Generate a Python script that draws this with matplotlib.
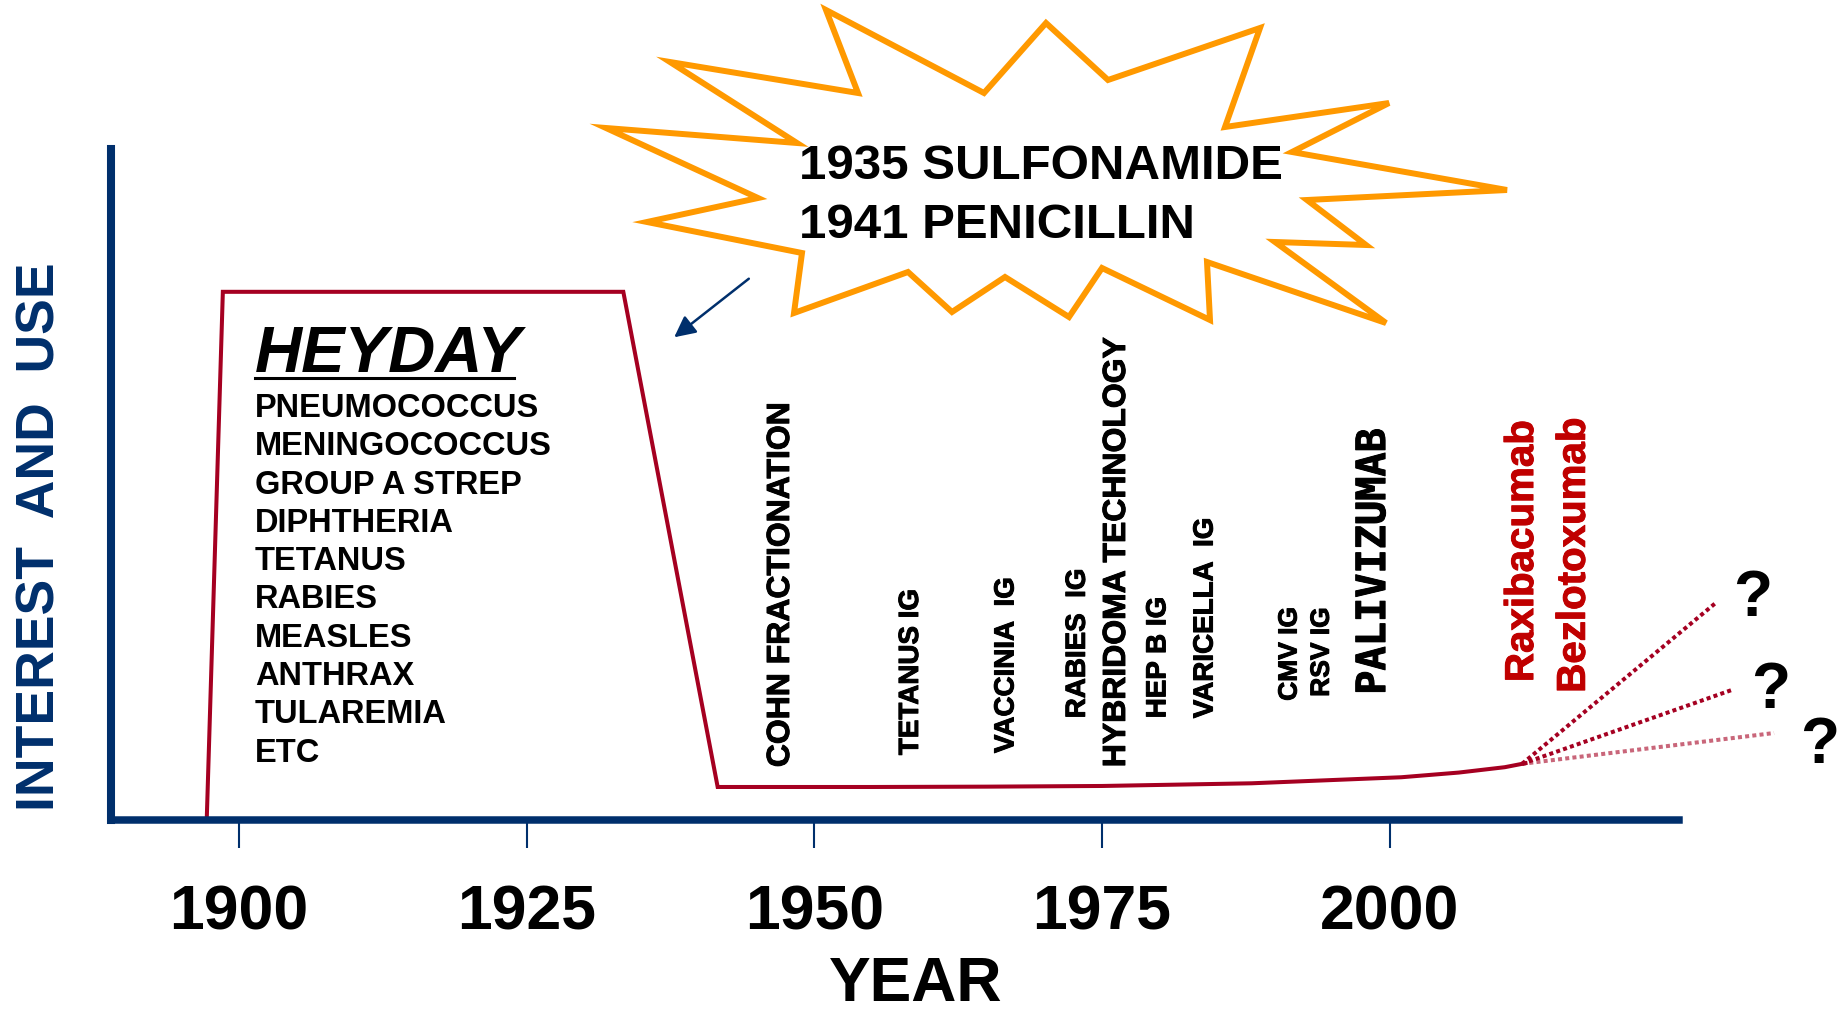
import matplotlib
matplotlib.use('Agg')
import matplotlib.pyplot as plt
import matplotlib.patheffects as pe
from matplotlib.patches import Polygon

# colours
NAVY = '#002F6C'
RED = '#A50021'
TXT_RED = '#C00000'
ORANGE = '#FF9900'

# main curve (year, interest) - schematic values
line_years = [1897.2, 1898.6, 1933.4, 1941.6, 1955, 1965, 1975, 1988, 2001, 2006, 2010, 2011.8]
line_vals = [0, 78.7, 78.7, 4.85, 4.85, 4.9, 5.0, 5.4, 6.3, 7.0, 7.8, 8.4]

# future "?" projections
proj_start = (2011.5, 8.3)
proj_end_years = [2028.4, 2029.7, 2033.4]
proj_end_vals = [32.4, 19.3, 12.9]
proj_alpha = [1.0, 1.0, 0.6]

tick_years = [1900, 1925, 1950, 1975, 2000]
tick_labels = ['1900', '1925', '1950', '1975', '2000']

heyday_items = ['PNEUMOCOCCUS', 'MENINGOCOCCUS', 'GROUP A STREP', 'DIPHTHERIA', 'TETANUS',
                'RABIES', 'MEASLES', 'ANTHRAX', 'TULAREMIA', 'ETC']

# vertical milestone labels: text, year, bottom value, font size, colour, family
milestones = [
    ('COHN FRACTIONATION', 1947.1, 7.8, 23, 'black', 'Liberation Sans'),
    ('TETANUS IG', 1958.4, 9.6, 20, 'black', 'Liberation Sans'),
    ('VACCINIA  IG', 1966.7, 9.9, 20, 'black', 'Liberation Sans'),
    ('RABIES  IG', 1972.9, 15.1, 20, 'black', 'Liberation Sans'),
    ('HYBRIDOMA TECHNOLOGY', 1976.3, 7.8, 23, 'black', 'Liberation Sans'),
    ('HEP B IG', 1979.9, 15.1, 20, 'black', 'Liberation Sans'),
    ('VARICELLA  IG', 1984.0, 15.1, 20, 'black', 'Liberation Sans'),
    ('CMV IG', 1991.3, 17.7, 19, 'black', 'Liberation Sans'),
    ('RSV IG', 1994.1, 18.3, 19, 'black', 'Liberation Sans'),
    ('PALIVIZUMAB', 1998.6, 18.6, 29, 'black', 'DejaVu Sans Mono'),
    ('Raxibacumab', 2011.5, 20.5, 29, TXT_RED, 'Liberation Sans'),
    ('Bezlotoxumab', 2016.0, 18.9, 29, TXT_RED, 'Liberation Sans'),
]

# starburst outline in figure pixels (x right, y down)
burst_pts = [(826, 10), (984, 93), (1046, 23), (1108, 80), (1260, 28), (1225, 127),
             (1389, 103), (1292, 152), (1507, 190), (1307, 200), (1366, 245), (1275, 242),
             (1386, 323), (1207, 262), (1210, 320), (1102, 268), (1069, 317), (1005, 277),
             (952, 312), (908, 272), (794, 313), (802, 253), (647, 222), (758, 198),
             (606, 128), (797, 143), (670, 62), (858, 93)]

plt.rcParams['font.family'] = ['Liberation Sans', 'DejaVu Sans']

fig = plt.figure(figsize=(18.39, 10.16), dpi=100)

# overlay in pixel coordinates for the callout
ov = fig.add_axes([0, 0, 1, 1])
ov.set_xlim(0, 1839)
ov.set_ylim(1016, 0)
ov.axis('off')

ax = fig.add_axes([111 / 1839, 196.5 / 1016, 1568 / 1839, 670.5 / 1016])
ax.patch.set_alpha(0)
ax.set_xlim(1888.88, 2025.14)
ax.set_ylim(0, 100)

for s in ['top', 'right']:
    ax.spines[s].set_visible(False)
ax.spines['left'].set_color(NAVY)
ax.spines['left'].set_linewidth(5.8)
ax.spines['bottom'].set_color(NAVY)
ax.spines['bottom'].set_linewidth(5.4)
ax.spines['bottom'].set_zorder(5)
ax.set_yticks([])
ax.set_xticks(tick_years)
ax.set_xticklabels(tick_labels, fontsize=45, fontweight='bold')
ax.tick_params(axis='x', direction='out', length=20, width=1.5, color=NAVY, pad=26)

# main curve
ax.plot(line_years, line_vals, color=RED, lw=2.9, solid_joinstyle='miter', zorder=3)

# projections
for ye, ve, a in zip(proj_end_years, proj_end_vals, proj_alpha):
    ax.plot([proj_start[0], ye], [proj_start[1], ve], color=RED, lw=2.9, alpha=a,
            linestyle=(0, (1, 0.8)), clip_on=False, zorder=3)

for xq, yq in [(2031.5, 30.4), (2033.1, 16.7), (2037.4, 8.5)]:
    ax.text(xq, yq, '?', fontsize=46, fontweight='bold', ha='center', va='baseline',
            clip_on=False)

# heyday block
ax.text(1901.4, 66.74, 'HEYDAY', fontsize=47, fontweight='bold', style='italic',
        ha='left', va='baseline')
ov.plot([255, 514], [378, 378], color='black', lw=2.2)
for i, item in enumerate(heyday_items):
    ax.text(1901.4, 60.03 - 5.712 * i, item, fontsize=23.5, fontweight='bold',
            ha='left', va='baseline')

for txt, yr, v, fs, col, fam in milestones:
    ax.text(yr, v, txt, rotation=90, fontsize=fs, fontweight='bold', color=col,
            family=fam, ha='center', va='bottom',
            path_effects=[pe.withStroke(linewidth=0.7, foreground=col)])

# axis titles
fig.text(916 / 1839, 1 - 1001 / 1016, 'YEAR', fontsize=45, fontweight='bold',
         ha='center', va='baseline')
fig.text(41 / 1839, 1 - 537 / 1016, 'INTEREST  AND  USE', fontsize=38.5, fontweight='bold',
         color=NAVY, rotation=90, ha='center', va='center')

# callout starburst
ov.add_patch(Polygon(burst_pts, closed=True, facecolor='white', edgecolor=ORANGE,
                     lw=4.3, joinstyle='miter'))
ov.text(799, 179, '1935 SULFONAMIDE', fontsize=35.5, fontweight='bold', ha='left', va='baseline')
ov.text(799, 238, '1941 PENICILLIN', fontsize=35.5, fontweight='bold', ha='left', va='baseline')
ov.annotate('', xy=(672, 339), xytext=(751, 277),
            arrowprops=dict(arrowstyle='-|>', color=NAVY, lw=1.8, mutation_scale=32))

fig.savefig('out.png', dpi=100)
